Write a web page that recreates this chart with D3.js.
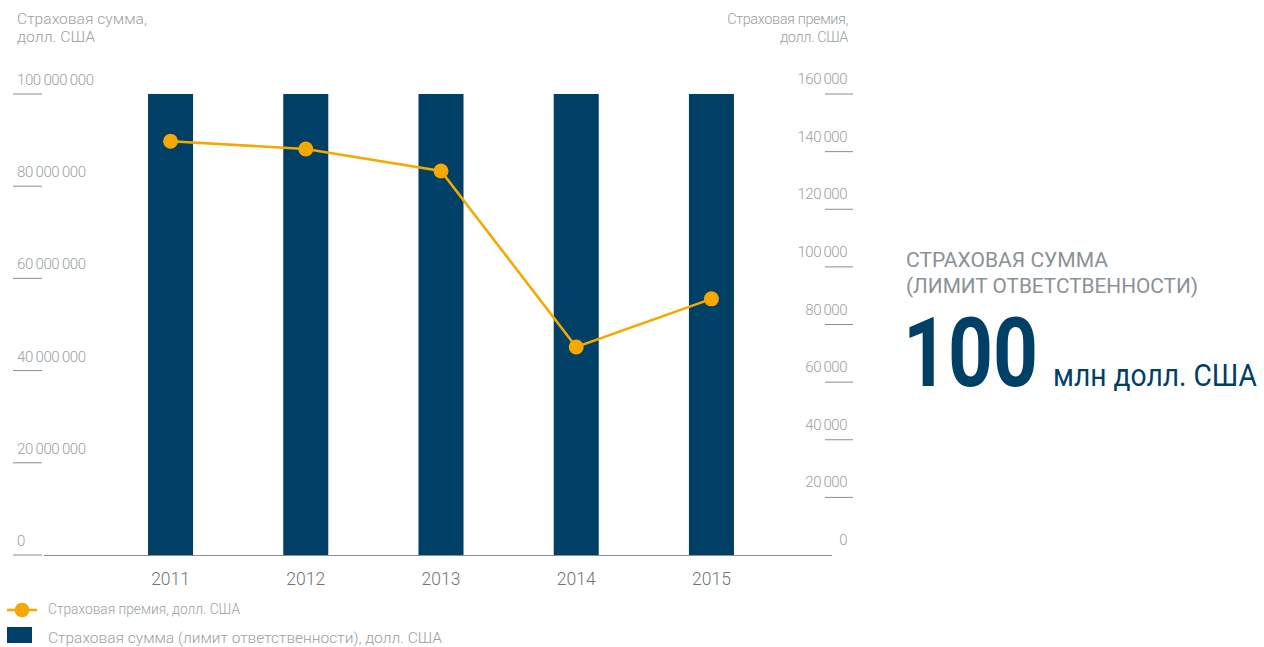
<!DOCTYPE html>
<html lang="ru">
<head>
<meta charset="utf-8">
<script src="https://cdn.jsdelivr.net/npm/d3@7"></script>
<style>
  html, body { margin: 0; padding: 0; background: #fff; }
  svg { display: block; font-family: Roboto, "Noto Sans", sans-serif; }
</style>
</head>
<body>
<svg id="chart" width="1264" height="647"></svg>
<script>
// Chart data
const years = ["2011", "2012", "2013", "2014", "2015"];
const sumInsured = [100000000, 100000000, 100000000, 100000000, 100000000];
const premium = [143600, 140900, 133300, 72200, 88900];
const leftTicks = [0, 20000000, 40000000, 60000000, 80000000, 100000000];
const rightTicks = [0, 20000, 40000, 60000, 80000, 100000, 120000, 140000, 160000];

const BAR = "#003f66";
const LINE = "#f5a800";
const TICK_TEXT = "#9aa0a4";
const RULE = "#8c8c8c";

const svg = d3.select("#chart");

const x = d3.scaleBand().domain(years).range([103, 779]).paddingInner(0.667).paddingOuter(0.333);
const yL = d3.scaleLinear().domain([0, 100000000]).range([555, 94]);
const yR = d3.scaleLinear().domain([0, 160000]).range([555, 94]);

// thousands separated by a narrow space
const fmt = v => d3.format(",")(v).replace(/,/g, "\u2009");

// axis titles
const titleL = svg.append("text").attr("x", 17).attr("y", 24)
  .attr("font-size", 15).attr("font-weight", 300).attr("fill", TICK_TEXT);
titleL.append("tspan").attr("x", 17).attr("textLength", 130).attr("lengthAdjust", "spacingAndGlyphs")
  .text("Страховая сумма,");
titleL.append("tspan").attr("x", 17).attr("dy", 18).attr("textLength", 78).attr("lengthAdjust", "spacingAndGlyphs")
  .text("долл. США");

const titleR = svg.append("text").attr("x", 848).attr("y", 24).attr("text-anchor", "end")
  .attr("font-size", 14.5).attr("font-weight", 300).attr("fill", TICK_TEXT).attr("letter-spacing", -0.4);
titleR.append("tspan").attr("x", 848).text("Страховая премия,");
titleR.append("tspan").attr("x", 848).attr("dy", 18).text("долл. США");

// left axis: short rules with labels sitting above them
const gL = svg.append("g");
leftTicks.forEach(t => {
  const yy = yL(t);
  gL.append("line").attr("x1", 13).attr("x2", 42).attr("y1", yy).attr("y2", yy)
    .attr("stroke", RULE).attr("stroke-width", 1);
  gL.append("text").attr("x", 17).attr("y", yy - 9)
    .attr("font-size", 15).attr("font-weight", 300).attr("fill", TICK_TEXT)
    .attr("letter-spacing", -0.4).text(fmt(t));
});

// right axis
const gR = svg.append("g");
rightTicks.forEach(t => {
  const yy = yR(t);
  if (t > 0) {
    gR.append("line").attr("x1", 825).attr("x2", 853).attr("y1", yy).attr("y2", yy)
      .attr("stroke", RULE).attr("stroke-width", 1);
  }
  gR.append("text").attr("x", 847).attr("y", yy - 10).attr("text-anchor", "end")
    .attr("font-size", 15).attr("font-weight", 300).attr("fill", TICK_TEXT)
    .attr("letter-spacing", -0.5).text(fmt(t));
});

// bars
svg.append("g").selectAll("rect").data(years).join("rect")
  .attr("x", d => x(d))
  .attr("width", x.bandwidth())
  .attr("y", (d, i) => yL(sumInsured[i]))
  .attr("height", (d, i) => yL(0) - yL(sumInsured[i]))
  .attr("fill", BAR);

// baseline
svg.append("line").attr("x1", 44).attr("x2", 832).attr("y1", 555.5).attr("y2", 555.5)
  .attr("stroke", RULE).attr("stroke-width", 1.2);

// year labels
svg.append("g").selectAll("text").data(years).join("text")
  .attr("x", d => x(d) + x.bandwidth() / 2)
  .attr("y", 585)
  .attr("text-anchor", "middle")
  .attr("font-size", 17.5).attr("font-weight", 300).attr("fill", "#6f7478")
  .text(d => d);

// premium line
const pts = years.map((d, i) => [x(d) + x.bandwidth() / 2, yR(premium[i])]);
svg.append("path").attr("d", d3.line()(pts))
  .attr("fill", "none").attr("stroke", LINE).attr("stroke-width", 2.6);
svg.append("g").selectAll("circle").data(pts).join("circle")
  .attr("cx", d => d[0]).attr("cy", d => d[1]).attr("r", 7.5).attr("fill", LINE);

// legend
const lg = svg.append("g");
lg.append("line").attr("x1", 7).attr("x2", 37).attr("y1", 610).attr("y2", 610)
  .attr("stroke", LINE).attr("stroke-width", 2.6);
lg.append("circle").attr("cx", 22).attr("cy", 610).attr("r", 7.3).attr("fill", LINE);
lg.append("text").attr("x", 48).attr("y", 614)
  .attr("font-size", 14).attr("font-weight", 300).attr("fill", TICK_TEXT)
  .attr("textLength", 192).attr("lengthAdjust", "spacingAndGlyphs")
  .text("Страховая премия, долл. США");
lg.append("rect").attr("x", 7).attr("y", 627).attr("width", 25).attr("height", 16).attr("fill", BAR);
lg.append("text").attr("x", 48).attr("y", 643)
  .attr("font-size", 15).attr("font-weight", 300).attr("fill", TICK_TEXT)
  .attr("textLength", 394).attr("lengthAdjust", "spacingAndGlyphs")
  .text("Страховая сумма (лимит ответственности), долл. США");

// headline block
const hb = svg.append("g");
hb.append("text").attr("x", 906).attr("y", 267)
  .attr("font-size", 21).attr("fill", "#8a9196")
  .attr("textLength", 202).attr("lengthAdjust", "spacingAndGlyphs")
  .text("СТРАХОВАЯ СУММА");
hb.append("text").attr("x", 906).attr("y", 293)
  .attr("font-size", 21).attr("fill", "#8a9196")
  .attr("textLength", 292).attr("lengthAdjust", "spacingAndGlyphs")
  .text("(ЛИМИТ ОТВЕТСТВЕННОСТИ)");
hb.append("text").attr("x", 903).attr("y", 386)
  .attr("font-size", 96).attr("font-weight", 700).attr("fill", BAR)
  .attr("textLength", 135).attr("lengthAdjust", "spacingAndGlyphs")
  .text(d3.format("d")(sumInsured[0] / 1e6));
hb.append("text").attr("x", 1053).attr("y", 386)
  .attr("font-size", 31).attr("fill", BAR)
  .attr("textLength", 204).attr("lengthAdjust", "spacingAndGlyphs")
  .text("млн долл. США");
</script>
</body>
</html>
